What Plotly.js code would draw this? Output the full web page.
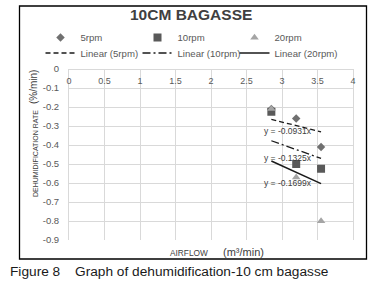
<!DOCTYPE html>
<html><head><meta charset="utf-8">
<script src="https://cdn.plot.ly/plotly-3.0.1.min.js"></script>
<style>html,body{margin:0;padding:0;background:#fff}#chart{width:378px;height:293px}</style>
</head><body><div id="chart"></div>
<script>
const airflow = [2.85, 3.2, 3.55];
const rate5 = [-0.21, -0.26, -0.41];
const rate10 = [-0.225, -0.50, -0.525];
const rate20 = [-0.21, -0.57, -0.80];
const slopes = [-0.0931, -0.1325, -0.1699];
const seriesNames = ['5rpm', '10rpm', '20rpm'];
const trendNames = ['Linear (5rpm)', 'Linear (10rpm)', 'Linear (20rpm)'];
const eqLabels = ['y = -0.0931x', 'y = -0.1325x', 'y = -0.1699x'];
const xTickVals = [0, 0.5, 1, 1.5, 2, 2.5, 3, 3.5, 4];
const xTickText = ['0', '0.5', '1', '1.5', '2', '2.5', '3', '3.5', '4'];
const yTickVals = [0, -0.1, -0.2, -0.3, -0.4, -0.5, -0.6, -0.7, -0.8, -0.9];
const yTickText = ['0', '-0.1', '-0.2', '-0.3', '-0.4', '-0.5', '-0.6', '-0.7', '-0.8', '-0.9'];

const F = 'Liberation Sans, Arial, sans-serif';
const rates = [rate5, rate10, rate20];
const markerStyles = [
  {symbol: 'diamond', size: 6.5, color: '#707070'},
  {symbol: 'square', size: 8, color: '#595959'},
  {symbol: 'triangle-up', size: 7.5, color: '#a5a5a5'}
];
const lineStyles = [
  {color: '#1a1a1a', width: 1.3, dash: '5px,3px'},
  {color: '#1a1a1a', width: 1.3, dash: '8px,3px,2px,3px'},
  {color: '#1a1a1a', width: 1.5, dash: 'solid'}
];
const legendWidths = [52, 52, 75];

const traces = [];
rates.forEach((r, i) => {
  traces.push({type: 'scatter', mode: 'markers', x: airflow, y: r, name: seriesNames[i],
    marker: markerStyles[i], legend: 'legend', legendwidth: legendWidths[i], cliponaxis: false});
});
slopes.forEach((s, i) => {
  const xs = [airflow[0], airflow[airflow.length - 1]];
  traces.push({type: 'scatter', mode: 'lines', x: xs, y: xs.map(v => s * v), name: trendNames[i],
    line: lineStyles[i], legend: 'legend2', legendwidth: legendWidths[i]});
});

const px = v => (v - 69) / 284;
const py = v => (240 - v) / 171;

const annotations = [
  {text: '10CM BAGASSE', xref: 'paper', yref: 'paper', x: px(191), y: py(15), showarrow: false,
   xanchor: 'center', yanchor: 'middle', font: {family: F, size: 15.5, color: '#404040', weight: 'bold'}},
  {text: 'DEHUMIDIFICATION RATE', xref: 'paper', yref: 'paper', x: px(35), y: py(154), showarrow: false,
   textangle: -90, xanchor: 'center', yanchor: 'middle', font: {family: F, size: 7, color: '#404040'}},
  {text: '(%/min)', xref: 'paper', yref: 'paper', x: px(33), y: py(87), showarrow: false,
   textangle: -90, xanchor: 'center', yanchor: 'middle', font: {family: F, size: 10, color: '#404040'}},
  {text: 'AIRFLOW', xref: 'paper', yref: 'paper', x: px(189), y: py(252.5), showarrow: false,
   xanchor: 'center', yanchor: 'middle', font: {family: F, size: 8.3, color: '#404040'}},
  {text: '(m³/min)', xref: 'paper', yref: 'paper', x: px(243), y: py(252), showarrow: false,
   xanchor: 'center', yanchor: 'middle', font: {family: F, size: 11, color: '#404040'}},
  {text: 'Figure 8', xref: 'paper', yref: 'paper', x: px(8), y: py(271), showarrow: false,
   xanchor: 'left', yanchor: 'middle', font: {family: F, size: 13.7, color: '#1a1a1a'}},
  {text: 'Graph of dehumidification-10 cm bagasse', xref: 'paper', yref: 'paper', x: px(73), y: py(271), showarrow: false,
   xanchor: 'left', yanchor: 'middle', font: {family: F, size: 13.7, color: '#1a1a1a'}}
];
const eqPos = [[3.08, -0.328], [3.08, -0.47], [3.08, -0.60]];
eqLabels.forEach((t, i) => {
  annotations.push({text: t, xref: 'x', yref: 'y', x: eqPos[i][0], y: eqPos[i][1], showarrow: false,
    xanchor: 'center', yanchor: 'middle', font: {family: F, size: 8.5, color: '#404040'}});
});

const legendBase = {orientation: 'h', xanchor: 'left', yanchor: 'middle',
  entrywidthmode: 'pixels', font: {family: F, size: 9.6, color: '#595959'},
  bgcolor: 'rgba(0,0,0,0)', borderwidth: 0};

const layout = {
  width: 378, height: 293,
  margin: {l: 69, r: 25, t: 69, b: 53, pad: 0},
  paper_bgcolor: '#fff', plot_bgcolor: '#fff',
  font: {family: F, color: '#595959'},
  showlegend: true,
  legend: Object.assign({}, legendBase, {x: px(40.5), y: py(37.5)}),
  legend2: Object.assign({}, legendBase, {x: px(40.5), y: py(53)}),
  xaxis: {range: [0, 4], anchor: 'free', position: 1, side: 'bottom',
    tickvals: xTickVals, ticktext: xTickText, ticks: '', ticklabelstandoff: 3,
    showgrid: true, gridcolor: '#d9d9d9', gridwidth: 1, zeroline: false,
    showline: true, linecolor: '#d9d9d9', linewidth: 1, mirror: true,
    tickfont: {family: F, size: 9, color: '#595959'}, fixedrange: true},
  yaxis: {range: [-0.9, 0], tickvals: yTickVals, ticktext: yTickText, ticks: '',
    ticklabelstandoff: 7,
    showgrid: true, gridcolor: '#d9d9d9', gridwidth: 1, zeroline: false,
    showline: true, linecolor: '#d9d9d9', linewidth: 1, mirror: true,
    tickfont: {family: F, size: 9.5, color: '#595959'}, fixedrange: true},
  annotations: annotations,
  shapes: [{type: 'rect', xref: 'paper', yref: 'paper', x0: px(19.5), x1: px(366.5), y0: py(259), y1: py(6),
    line: {color: '#000', width: 1.3}, fillcolor: 'rgba(0,0,0,0)', layer: 'above'}]
};

Plotly.newPlot('chart', traces, layout, {displayModeBar: false, staticPlot: true});
</script>
</body></html>
